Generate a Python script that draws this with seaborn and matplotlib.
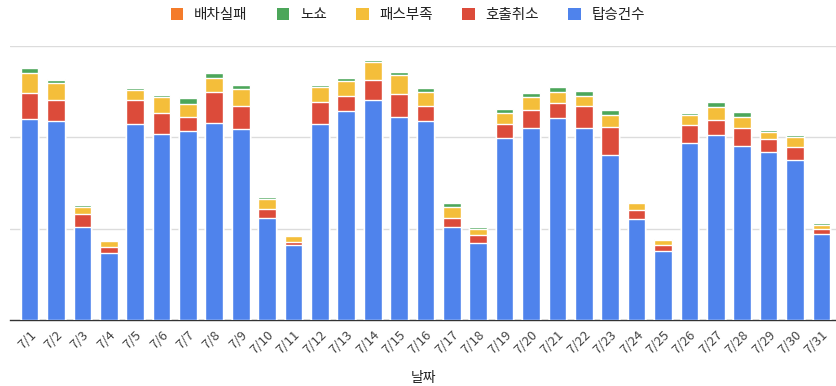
import matplotlib
matplotlib.use("Agg")
import matplotlib.pyplot as plt
from matplotlib.patches import Patch
import numpy as np
import pandas as pd
import seaborn as sns

# Data (gridlines at 100/200/300)
dates = [f"7/{d}" for d in range(1, 32)]
boarded = [220, 218, 101.5, 73, 215, 204, 207, 216, 209.5, 112, 82, 215, 228.6, 241, 222, 218,
           101.5, 84, 199, 210.6, 221, 210.6, 181, 111, 75.6, 194, 203, 190.6, 184.4, 175.6, 94]
cancelled = [28.5, 23, 14.5, 7, 26, 23, 15, 34, 25, 10, 3, 24, 17, 22, 25, 16.5,
             10.5, 8.7, 15.4, 19, 16.3, 24, 30, 9.5, 6.2, 19, 15.7, 19.7, 13.5, 14.3, 5.8]
no_pass = [22, 19, 8, 6, 11, 17, 14.6, 15, 18, 10, 6.5, 16, 16, 20, 21.7, 15,
           12, 6.6, 12.3, 14.4, 12.7, 11, 13, 8, 5.8, 11.7, 14.6, 11.7, 8, 11, 3.7]
no_show = [5, 3, 2, 2, 2, 2.5, 6, 5, 5, 3, 0.5, 2, 3, 1.5, 2.6, 5,
           4.5, 2.6, 3.8, 5, 4.8, 5, 5.5, 0.5, 1.4, 1.5, 5.5, 5.8, 2.5, 2.2, 2.2]
dispatch_fail = [0, 1, 0, 0, 0, 0, 1.5, 0, 0, 0, 0, 0, 0, 0, 0, 0,
                 0, 0, 0, 0, 0, 0, 0, 0, 0, 0, 0, 0, 0, 0, 0]

series = ["탑승건수", "호출취소", "패스부족", "노쇼", "배차실패"]
colors = ["#4F83EC", "#DC4B3A", "#F4BE3A", "#4CA65A", "#F47B2A"]

df = pd.DataFrame({
    "날짜": dates,
    "탑승건수": boarded,
    "호출취소": cancelled,
    "패스부족": no_pass,
    "노쇼": no_show,
    "배차실패": dispatch_fail,
})
cum = df[series].cumsum(axis=1)

sns.set_theme(style="white")
plt.rcParams["font.family"] = ["Noto Sans CJK KR", "DejaVu Sans"]

fig = plt.figure(figsize=(8.36, 3.86), dpi=100)
ax = fig.add_axes([10 / 836, 1 - 320 / 386, 826 / 836, (320 - 46) / 386])

# draw cumulative totals from top layer down so they stack
for name, color in reversed(list(zip(series, colors))):
    sns.barplot(x=df["날짜"], y=cum[name], color=color, width=0.667,
                saturation=1, ax=ax, zorder=3)

ax.set_ylim(0, 300)
ax.set_xlim(-0.739, 30.55)
ax.set_yticks([100, 200, 300])
ax.set_yticklabels([])
ax.tick_params(axis="y", length=0)
ax.grid(axis="y", color="#dcdcdc", linewidth=1, zorder=0)
for s in ["top", "right", "left"]:
    ax.spines[s].set_visible(False)
ax.spines["bottom"].set_color("#333333")
ax.spines["bottom"].set_linewidth(1)

ax.set_xticks(range(len(dates)))
ax.set_xticklabels(dates, rotation=45, ha="right", rotation_mode="anchor",
                   fontsize=9.5, color="#444444")
ax.tick_params(axis="x", length=0, pad=6)
ax.set_ylabel("")
ax.set_xlabel("날짜", fontsize=10, color="#222222", labelpad=10)

handles = [Patch(facecolor=c, edgecolor="none") for c in reversed(colors)]
labels = list(reversed(series))
fig.legend(handles, labels, loc="center", bbox_to_anchor=(0.488, 1 - 15 / 386),
           ncol=5, frameon=False, fontsize=10.5, handlelength=0.85, handleheight=0.85,
           handletextpad=0.75, columnspacing=2.0, labelcolor="#222222")

fig.savefig("out.png", dpi=100)
